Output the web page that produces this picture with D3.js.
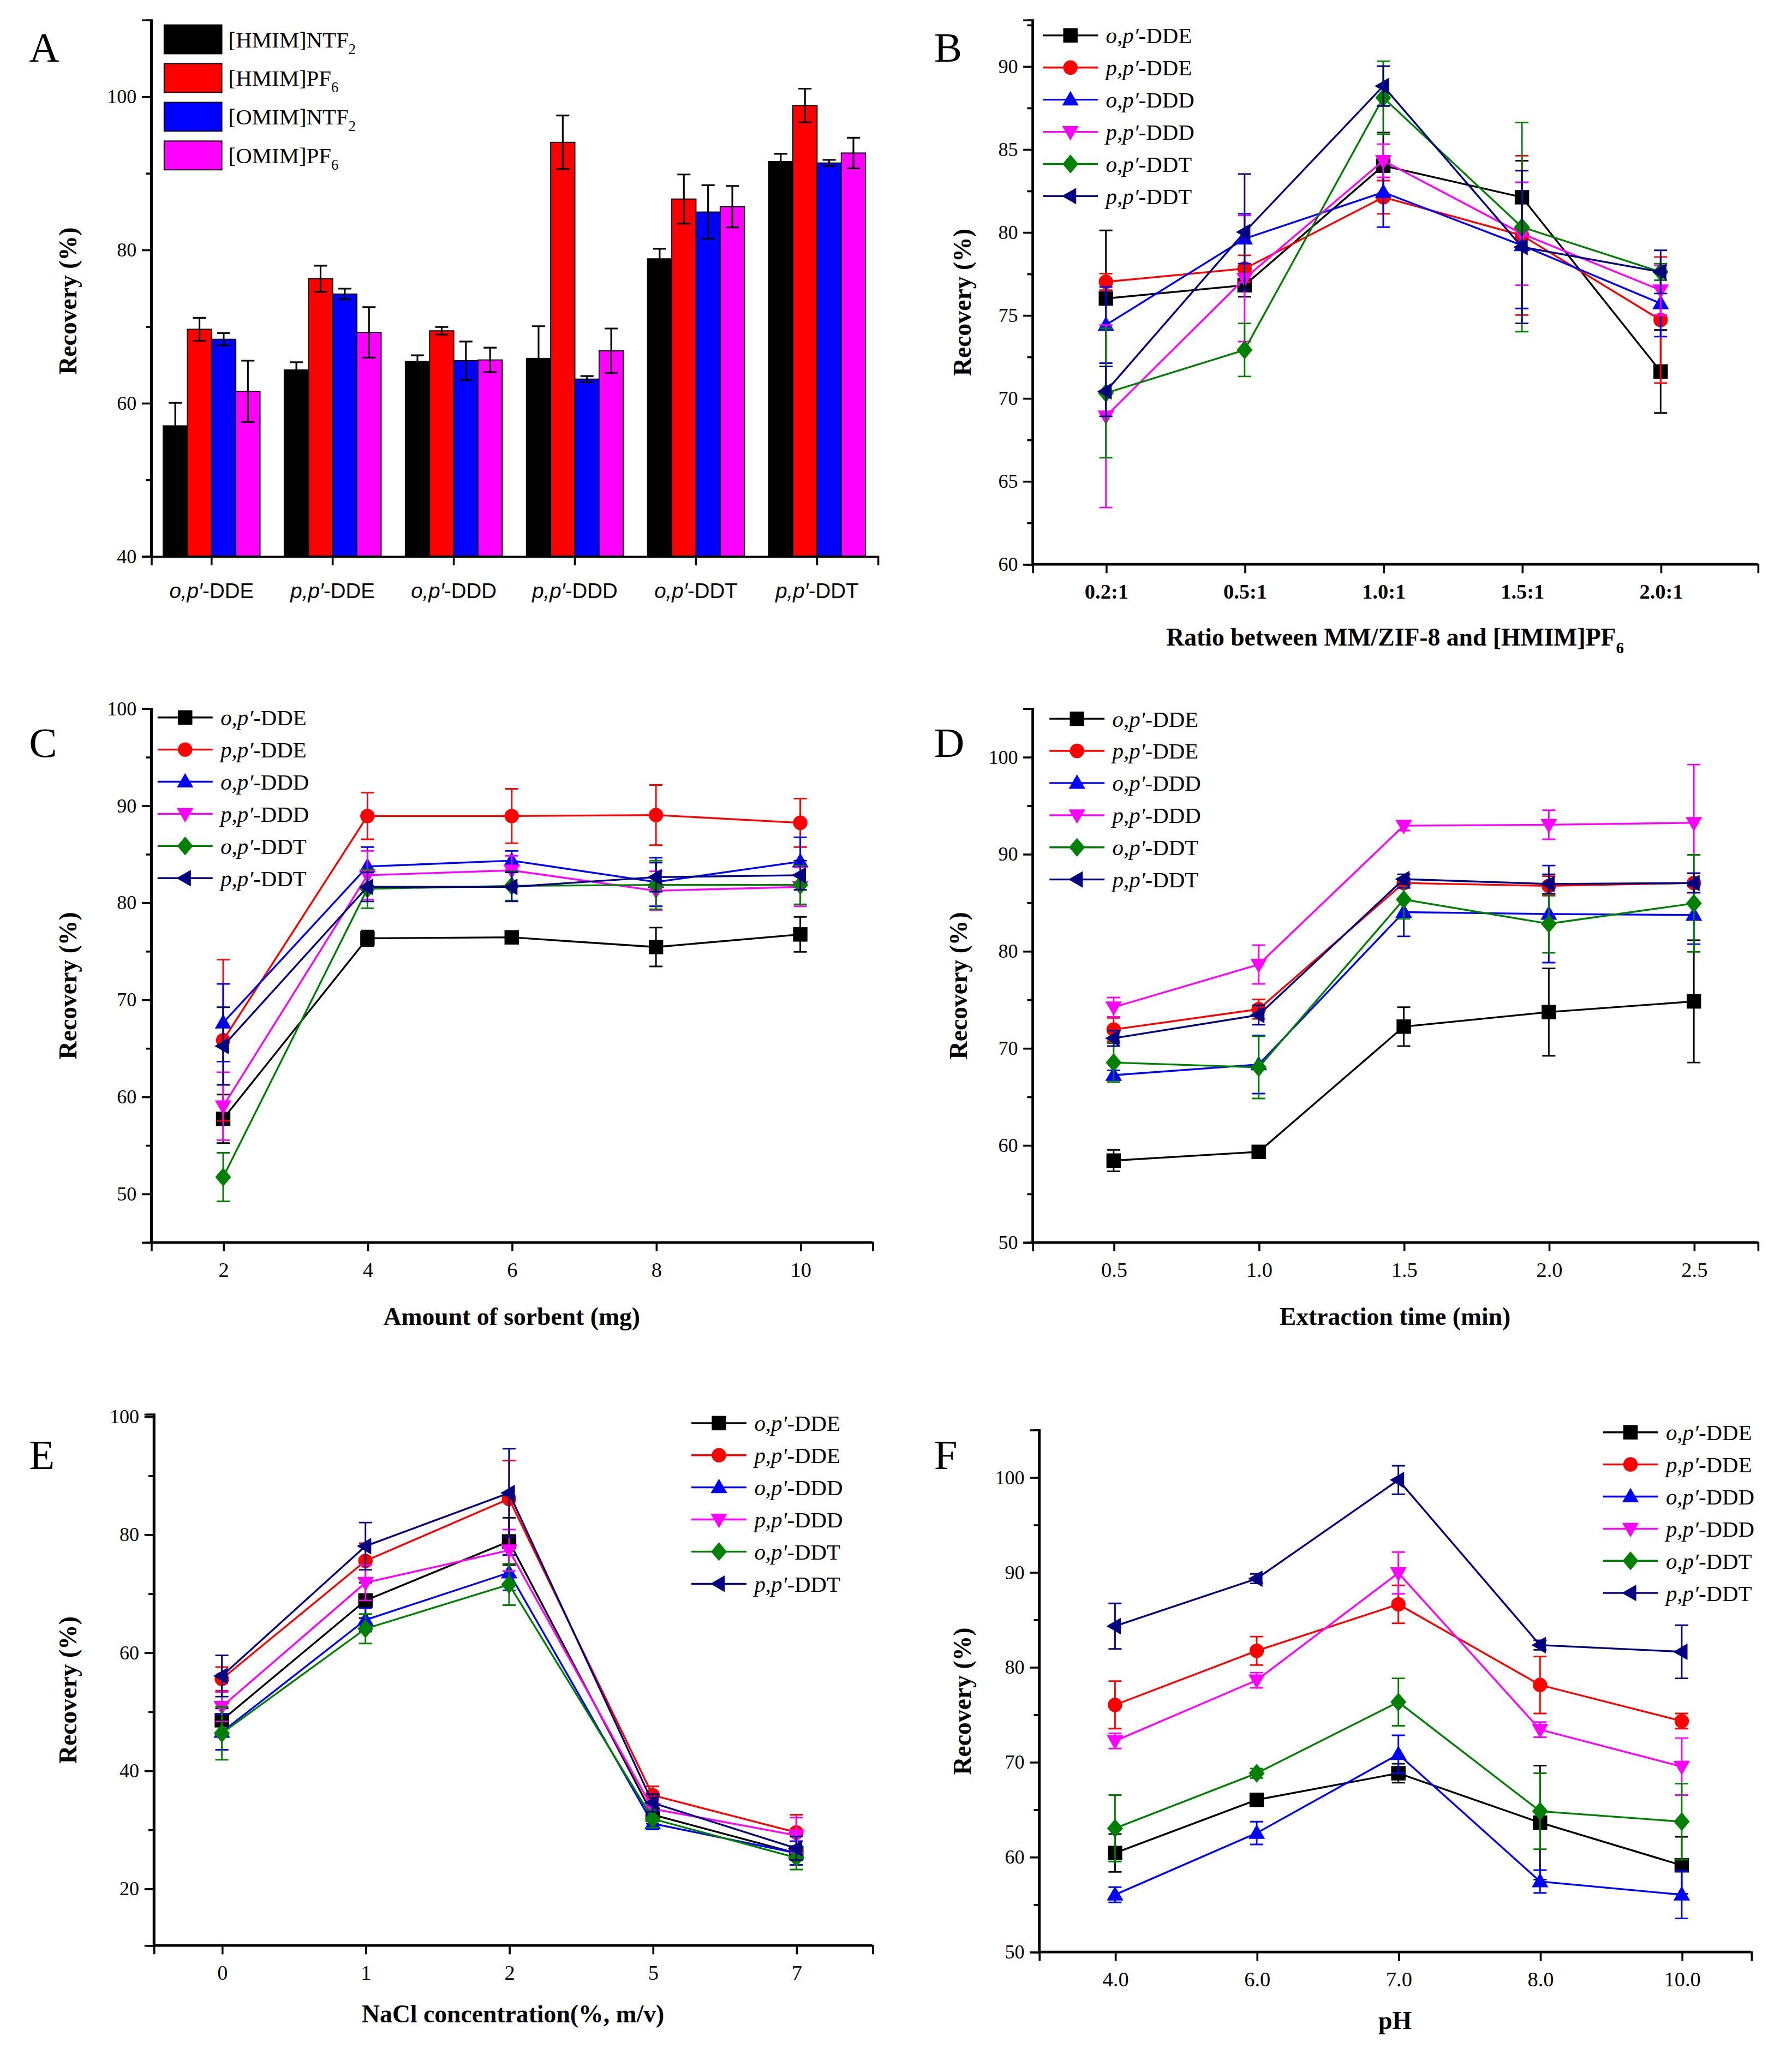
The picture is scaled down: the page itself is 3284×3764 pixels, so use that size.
<!DOCTYPE html>
<html><head><meta charset="utf-8">
<script src="https://cdn.jsdelivr.net/npm/d3@7"></script>
<style>body{margin:0;background:#fff}svg{display:block;font-family:"Liberation Serif","Times New Roman",serif}</style>
</head><body>
<svg id="c" width="3284" height="3764" viewBox="0 0 1366 1566"></svg>
<script>
// ---------- DATA ----------
const compounds = [["o,p′","-DDE"],["p,p′","-DDE"],["o,p′","-DDD"],["p,p′","-DDD"],["o,p′","-DDT"],["p,p′","-DDT"]];
const ilNames = [["[HMIM]NTF","2"],["[HMIM]PF","6"],["[OMIM]NTF","2"],["[OMIM]PF","6"]];
// Panel A: rows = compound, cols = ionic liquid
const aVals = [[57,69.6,68.3,61.5],[64.3,76.2,74.2,69.2],[65.4,69.4,65.5,65.6],[65.8,94,63.1,66.8],[78.8,86.6,84.9,85.6],[91.5,98.8,91.3,92.6]];
const aErr  = [[3,1.5,0.8,4],[1,1.7,0.7,3.3],[0.8,0.5,2.5,1.6],[4.2,3.5,0.4,2.9],[1.3,3.2,3.5,2.7],[1,2.2,0.4,2]];

const bTicks = ["0.2:1","0.5:1","1.0:1","1.5:1","2.0:1"];
const bVals = [[76.0,76.8,84.0,82.1,71.6],[77.0,77.8,82.1,79.8,74.7],[74.4,79.6,82.4,79.2,75.7],[68.9,77.2,84.3,79.9,76.5],[70.3,72.9,88.1,80.3,77.6],[70.4,80.0,88.8,79.1,77.6]];
const bErr  = [[4.1,0.7,2,2.2,2.5],[0.5,0.8,1,4.8,3.8],[2.3,1.5,2.1,3.8,2],[5.5,3.8,1,3.1,1.5],[3.9,1.6,2.2,6.3,0.5],[1.5,3.5,1.2,4.6,1.3]];

const cX = [2,4,6,8,10];
const cVals = [[57.7,76.3,76.4,75.4,76.7],[65.8,88.9,88.9,89.0,88.2],[67.6,83.7,84.3,82.1,84.2],[59.0,82.8,83.3,81.2,81.6],[51.7,81.4,81.7,81.8,81.8],[65.2,81.6,81.6,82.6,82.8]];
const cErr  = [[2.5,0.8,0.3,2,1.8],[8.3,2.4,2.8,3.1,2.5],[4,2,1,2.5,2.5],[3.5,2.5,1.5,2,2],[2.5,2,1.5,2.5,2],[4,1.5,1.5,1.5,1.5]];

const dX = [0.5,1.0,1.5,2.0,2.5];
const dVals = [[58.4,59.3,72.2,73.7,74.8],[71.9,74.0,87.0,86.7,87.0],[67.2,68.3,84.0,83.8,83.7],[74.2,78.6,92.9,93.0,93.2],[68.5,68.0,85.3,82.8,84.9],[71.0,73.4,87.4,86.9,87.0]];
const dErr  = [[1.1,0.4,2,4.5,6.3],[1.2,1,0.5,1,1],[0.5,3,2.5,5,3],[1,2,0.5,1.5,6],[2,3.2,2,3,5],[0.8,1,0.5,1,1]];

const eTicks = ["0","1","2","5","7"];
const eVals = [[48.5,68.8,78.8,32.5,26],[55.5,75.5,86.0,35.8,29.5],[46.5,65.5,73.5,31,26],[50.8,71.8,77.3,33.5,29],[46.3,64.0,71.5,31.8,25.2],[56.0,78.0,87.0,34.5,26.8]];
const eErr  = [[2,3,4,1.5,2],[2,3,6.5,1.5,3],[3,2,3,1,2],[2.5,3,3.5,1.5,3],[4.5,2.5,3.5,1.5,2],[3.5,4,7.5,1.5,2]];

const fTicks = ["4.0","6.0","7.0","8.0","10.0"];
const fVals = [[60.4,66,68.8,63.6,59.1],[76,81.7,86.6,78.1,74.3],[56,62.5,70.8,57.4,56],[72.2,78.6,89.9,73.4,69.5],[63,68.8,76.3,64.8,63.7],[84.3,89.3,99.7,82.3,81.6]];
const fErr  = [[2,0.5,1,6,3],[2.5,1.5,2,3,0.8],[0.8,1.2,2,1.2,2.5],[0.8,0.8,2.2,0.8,3],[3.5,0.5,2.5,4,4],[2.4,0.5,1.5,0.5,2.8]];

// ---------- STYLE ----------
const barColors = ["#000000","#ff0000","#0000ff","#ff00ff"];
const lineColors = ["#000000","#ff0000","#0000ff","#ff00ff","#008000","#000080"];
const symbols = ["square","circle","up","down","diamond","left"];
const svg = d3.select("#c");

function marker(g, type, x, y, color, s=5.5){
  let p;
  if(type==="square") p=`M${x-s},${y-s}h${2*s}v${2*s}h${-2*s}Z`;
  else if(type==="circle"){ g.append("circle").attr("cx",x).attr("cy",y).attr("r",s).attr("fill",color); return; }
  else if(type==="up") p=`M${x},${y-s*1.2}L${x+s*1.15},${y+s*0.8}L${x-s*1.15},${y+s*0.8}Z`;
  else if(type==="down") p=`M${x},${y+s*1.2}L${x+s*1.15},${y-s*0.8}L${x-s*1.15},${y-s*0.8}Z`;
  else if(type==="diamond") p=`M${x},${y-s*1.3}L${x+s*1.1},${y}L${x},${y+s*1.3}L${x-s*1.1},${y}Z`;
  else if(type==="left") p=`M${x-s*1.2},${y}L${x+s*0.8},${y-s*1.15}L${x+s*0.8},${y+s*1.15}Z`;
  g.append("path").attr("d",p).attr("fill",color);
}
function compLabel(t, c, size){
  t.append("tspan").attr("font-style","italic").text(c[0]);
  t.append("tspan").text(c[1]);
}
function panelLetter(l,x,y){ svg.append("text").attr("x",x).attr("y",y).attr("font-size",32).text(l); }
function yTitle(x,y){ svg.append("text").attr("transform",`translate(${x},${y}) rotate(-90)`).attr("text-anchor","middle").attr("font-weight","bold").attr("font-size",19).text("Recovery (%)"); }
function styleAxis(g, fs, bold){
  g.selectAll("path,line").attr("stroke","#000").attr("stroke-width",1.5);
  g.selectAll("text").attr("font-size",fs).attr("font-family","Liberation Serif").attr("font-weight",bold?"bold":"normal").attr("fill","#000");
}
function yAxisDraw(x, y, majors, minors, fs){
  const g = svg.append("g").attr("transform",`translate(${x},0)`);
  g.call(d3.axisLeft(y).tickValues(minors).tickSize(4).tickFormat(""));
  const g2 = svg.append("g").attr("transform",`translate(${x},0)`);
  g2.call(d3.axisLeft(y).tickValues(majors).tickSize(7).tickPadding(4).tickFormat(d3.format("d")));
  styleAxis(g,fs); styleAxis(g2,fs);
}

// ---------- PANEL A ----------
(function(){
  const L=115,R=665,T=15,B=424;
  const y=d3.scaleLinear().domain([40,110]).range([B,T]);
  const x=d3.scaleBand().domain(d3.range(6)).range([L+0,R+4]).paddingInner(0.2).paddingOuter(0.1);
  const xs=d3.scaleBand().domain(d3.range(4)).range([0,x.bandwidth()]);
  const g=svg.append("g");
  aVals.forEach((row,i)=>row.forEach((v,j)=>{
    const bx=x(i)+xs(j), w=xs.bandwidth();
    g.append("rect").attr("x",bx).attr("y",y(v)).attr("width",w).attr("height",y(40)-y(v)).attr("fill",barColors[j]).attr("stroke","#000").attr("stroke-width",0.8);
    const cx=bx+w/2, e=aErr[i][j];
    g.append("path").attr("d",`M${cx},${y(v-e)}V${y(v+e)}M${cx-5},${y(v+e)}h10M${cx-5},${y(v-e)}h10`).attr("stroke","#000").attr("stroke-width",1.3).attr("fill","none");
  }));
  yAxisDraw(L,y,[40,60,80,100],[50,70,90],15);
  svg.append("line").attr("x1",L).attr("x2",L).attr("y1",T).attr("y2",B).attr("stroke","#000").attr("stroke-width",1.5);
  const xa=svg.append("g").attr("transform",`translate(0,${B})`).call(d3.axisBottom(x).tickSize(7).tickPadding(6).tickFormat(""));
  styleAxis(xa,15);
  xa.selectAll(".tick").each(function(d){ const t=d3.select(this).append("text").attr("y",32).attr("text-anchor","middle").attr("font-size",16).attr("fill","#000"); compLabel(t,compounds[d]); });
  ilNames.forEach((n,j)=>{
    const yy=19+j*29.5;
    svg.append("rect").attr("x",125).attr("y",yy).attr("width",44).attr("height",22).attr("fill",barColors[j]).attr("stroke","#000").attr("stroke-width",0.8);
    const t=svg.append("text").attr("x",174).attr("y",yy+17).attr("font-size",17);
    t.append("tspan").text(n[0]); t.append("tspan").attr("font-size",11).attr("dy",5).text(n[1]);
  });
  yTitle(58,(T+B)/2+10);
  panelLetter("A",22,47);
})();

// ---------- LINE PANELS ----------
function linePanel(o){
  const x=d3.scaleLinear().domain(o.xd).range([o.L,o.R]);
  const y=d3.scaleLinear().domain(o.yd).range([o.B,o.T]);
  const g=svg.append("g");
  o.vals.forEach((row,s)=>{
    const col=lineColors[s];
    const pts=row.map((v,i)=>[x(o.xv[i]),y(v)]);
    g.append("path").attr("d",d3.line()(pts)).attr("stroke",col).attr("stroke-width",1.4).attr("fill","none");
    row.forEach((v,i)=>{
      const e=o.err[s][i], cx=x(o.xv[i]);
      g.append("path").attr("d",`M${cx},${y(v-e)}V${y(v+e)}M${cx-5},${y(v+e)}h10M${cx-5},${y(v-e)}h10`).attr("stroke",col).attr("stroke-width",1.2).attr("fill","none");
    });
    row.forEach((v,i)=>marker(g,symbols[s],x(o.xv[i]),y(v),col));
  });
  yAxisDraw(o.L,y,o.majors,o.minors,15);
  svg.append("line").attr("x1",o.L).attr("x2",o.L).attr("y1",o.T).attr("y2",o.B).attr("stroke","#000").attr("stroke-width",1.5);
  const xa=svg.append("g").attr("transform",`translate(0,${o.B})`).call(d3.axisBottom(x).tickValues(o.xv).tickSize(7).tickPadding(8).tickFormat((d,i)=>o.xl[i]));
  styleAxis(xa,o.xfs||16,o.xbold);
  svg.append("line").attr("x1",o.L).attr("x2",o.R).attr("y1",o.B).attr("y2",o.B).attr("stroke","#000").attr("stroke-width",1.5);
  // x title
  const t=svg.append("text").attr("x",(o.L+o.R)/2).attr("y",o.xty).attr("text-anchor","middle").attr("font-weight","bold").attr("font-size",19);
  t.append("tspan").text(o.xt[0]); if(o.xt[1]) t.append("tspan").attr("font-size",12).attr("dy",6).text(o.xt[1]);
  yTitle(o.ytx,(o.T+o.B)/2+8);
  // legend
  compounds.forEach((c,s)=>{
    const ly=o.ly+s*24.5, col=lineColors[s];
    svg.append("line").attr("x1",o.lx).attr("x2",o.lx+42).attr("y1",ly).attr("y2",ly).attr("stroke",col).attr("stroke-width",1.4);
    marker(svg,symbols[s],o.lx+21,ly,col);
    const tt=svg.append("text").attr("x",o.lx+48).attr("y",ly+6).attr("font-size",17);
    compLabel(tt,c);
  });
  panelLetter(o.letter,o.lpx,o.lpy);
}

linePanel({L:787,R:1340,T:15,B:430,xd:[-0.53,4.7],yd:[60,92.8],xv:[0,1,2,3,4],xl:bTicks,xbold:true,
  vals:bVals,err:bErr,majors:[60,65,70,75,80,85,90],minors:[62.5,67.5,72.5,77.5,82.5,87.5,92.5],
  xt:["Ratio between MM/ZIF-8 and [HMIM]PF","6"],xty:492,ytx:740,lx:795,ly:27,letter:"B",lpx:712,lpy:47});
linePanel({L:115,R:665,T:540,B:947,xd:[1,11],yd:[45,100],xv:cX,xl:cX.map(String),
  vals:cVals,err:cErr,majors:[50,60,70,80,90,100],minors:[55,65,75,85,95],
  xt:["Amount of sorbent (mg)"],xty:1010,ytx:58,lx:120,ly:547,letter:"C",lpx:22,lpy:577});
linePanel({L:787,R:1340,T:540,B:947,xd:[0.22,2.72],yd:[50,105],xv:dX,xl:dX.map(d3.format(".1f")),
  vals:dVals,err:dErr,majors:[50,60,70,80,90,100],minors:[55,65,75,85,95],
  xt:["Extraction time (min)"],xty:1010,ytx:737,lx:800,ly:548,letter:"D",lpx:712,lpy:577});
linePanel({L:117,R:665,T:1078,B:1483,xd:[-0.475,4.53],yd:[10.4,100.4],xv:[0,1,2,3,4],xl:eTicks,
  vals:eVals,err:eErr,majors:[20,40,60,80,100],minors:[30,50,70,90],
  xt:["NaCl concentration(%, m/v)"],xty:1542,ytx:58,lx:527,ly:1085,letter:"E",lpx:22,lpy:1120});
linePanel({L:792,R:1335,T:1090,B:1488,xd:[-0.537,4.49],yd:[50,105],xv:[0,1,2,3,4],xl:fTicks,
  vals:fVals,err:fErr,majors:[50,60,70,80,90,100],minors:[55,65,75,85,95],
  xt:["pH"],xty:1547,ytx:740,lx:1222,ly:1092,letter:"F",lpx:712,lpy:1120});
</script>
</body></html>
